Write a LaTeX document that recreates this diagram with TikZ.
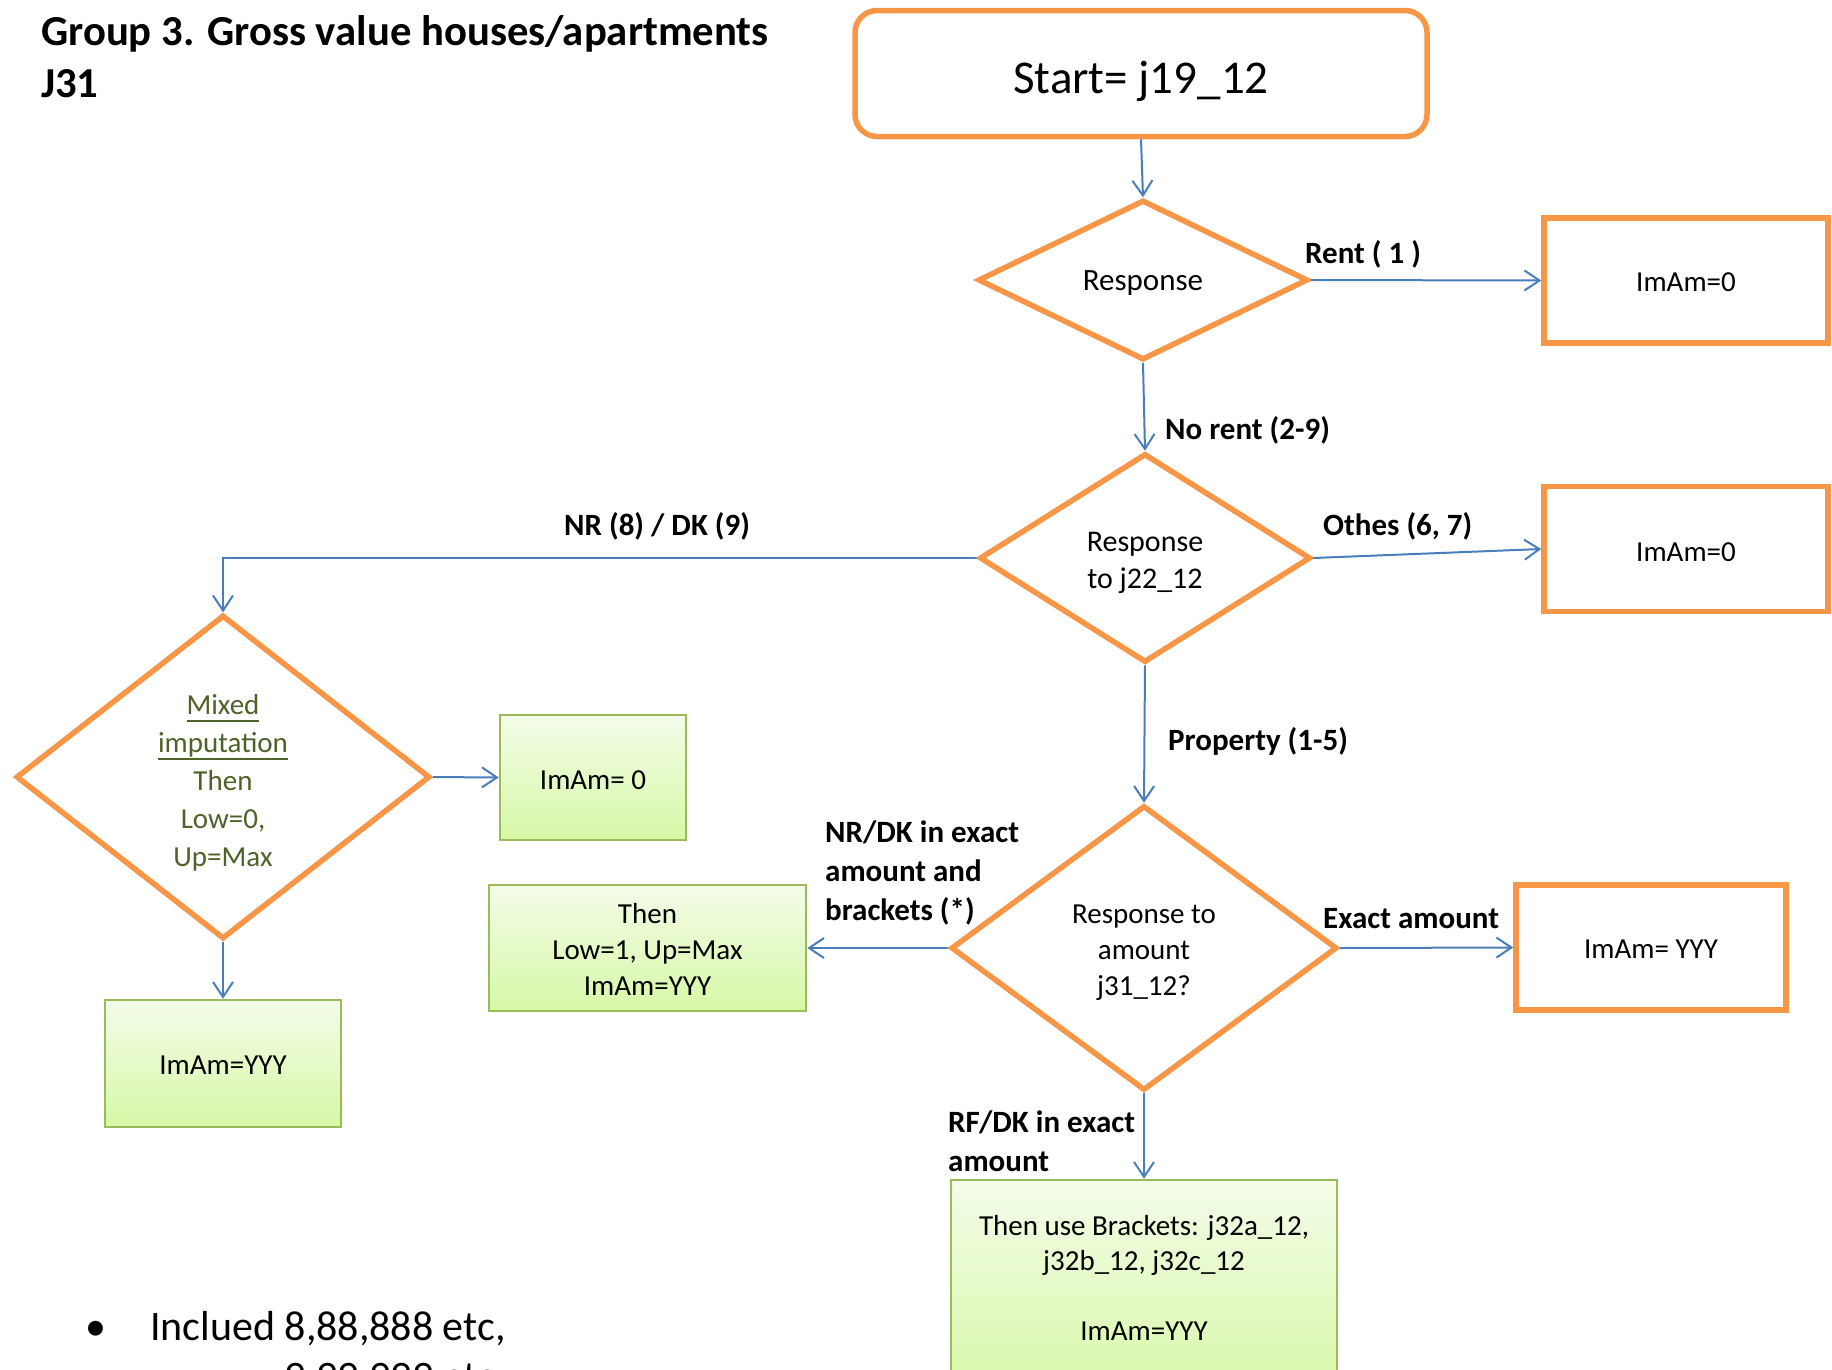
\documentclass[tikz,border=0pt]{standalone}
\usepackage{fontspec}
\setmainfont{Carlito}
\usetikzlibrary{shapes.geometric,arrows.meta}
\definecolor{orng}{HTML}{F79646}
\definecolor{blu}{HTML}{4A7EBB}
\definecolor{gborder}{HTML}{9BBB59}
\definecolor{gtop}{HTML}{F3FCE8}
\definecolor{gbot}{HTML}{D7F8A6}
\definecolor{olive}{HTML}{4F6228}
\newcommand{\thickul}[1]{\setbox0\hbox{#1}\rlap{\rule[-8pt]{\wd0}{2.4pt}}\box0}
\tikzset{
  every node/.style={inner sep=0pt},
  obox/.style={draw=orng, line width=5.5pt, rectangle},
  gbox/.style={draw=gborder, line width=2.5pt, rectangle, top color=gtop, bottom color=gbot},
  dia/.style={draw=orng, line width=5.5pt, diamond},
  conn/.style={draw=blu, line width=2pt, -{Straight Barb[length=15pt,width=20pt]}},
  txt/.style={font=\fontsize{29}{36}\selectfont, align=center, anchor=base},
  lbl/.style={font=\bfseries\fontsize{31}{39}\selectfont, align=left, anchor=base west},
}
\begin{document}
\begin{tikzpicture}[x=1pt,y=-1pt]
\useasboundingbox (0,0) rectangle (1832,1369);
% title (base anchor = last line)
\node[font=\bfseries\fontsize{42.7}{52}\selectfont, align=left, anchor=base west] (title) at (41,97) {Group 3. Gross value houses/apartments\\J31};
% shapes
\node[obox, rounded corners=22pt, minimum width=572, minimum height=126] (start) at (1141,73.5) {};
\node[dia, minimum width=330, minimum height=160] (d1) at (1143,280) {};
\node[obox, minimum width=284, minimum height=125] (box1) at (1686,280.5) {};
\node[dia, minimum width=331, minimum height=209] (d2) at (1145,558) {};
\node[obox, minimum width=284, minimum height=125] (box2) at (1686,549) {};
\node[dia, minimum width=414, minimum height=324] (dm) at (223,777) {};
\node[gbox, minimum width=186, minimum height=125] (g1) at (593,777.5) {};
\node[gbox, minimum width=236, minimum height=127] (g2) at (223,1063.5) {};
\node[gbox, minimum width=317, minimum height=126] (g3) at (647.5,948) {};
\node[dia, minimum width=386, minimum height=285] (d3) at (1144,948) {};
\node[obox, minimum width=270, minimum height=125] (o3) at (1651,947.5) {};
\node[gbox, minimum width=386, minimum height=220] (g4) at (1144,1290) {};
% texts in shapes
\node[txt, font=\fontsize{47}{56}\selectfont] (startt) at (1141,93) {Start= j19\_12};
\node[txt, font=\fontsize{31}{38}\selectfont] (d1t) at (1143,290) {Response};
\node[txt] (box1t) at (1686,291) {ImAm=0};
\node[txt] (box2t) at (1686,561) {ImAm=0};
\node[txt, font=\fontsize{30}{37}\selectfont] (d2t) at (1145,588) {Response\\to j22\_12};
\node[txt, font=\fontsize{29}{38}\selectfont, text=olive] (dmt) at (223,866) {\thickul{Mixed}\\\thickul{imputation}\\Then\\Low=0,\\Up=Max};
\node[txt] (g1t) at (593,789) {ImAm= 0};
\node[txt] (g3t) at (647.5,995) {Then\\Low=1, Up=Max\\ImAm=YYY};
\node[txt] (d3t) at (1144,995) {Response to\\amount\\j31\_12?};
\node[txt] (o3t) at (1651,958) {ImAm= YYY};
\node[txt] (g2t) at (223,1074) {ImAm=YYY};
\node[txt, font=\fontsize{29}{35}\selectfont] (g4t) at (1144,1340) {Then use Brackets: j32a\_12,\\j32b\_12, j32c\_12\\[35pt]ImAm=YYY};
% labels
\node[lbl] (lrent) at (1305,263) {Rent ( 1 )};
\node[lbl] (lnorent) at (1165,439) {No rent (2-9)};
\node[lbl] (lnrdk) at (564,535) {NR (8) / DK (9)};
\node[lbl] (lothes) at (1323,535) {Othes (6, 7)};
\node[lbl] (lprop) at (1168,750) {Property (1-5)};
\node[lbl] (lnrdk2) at (825,920) {NR/DK in exact\\amount and\\brackets (*)};
\node[lbl] (lexact) at (1323,928) {Exact amount};
\node[lbl] (lrfdk) at (948,1171) {RF/DK in exact\\amount};
% bullet
\node[anchor=base, font=\fontsize{42}{50}\selectfont] (bul) at (96,1340) {\textbullet};
\node[anchor=base west, align=left, font=\fontsize{42}{50}\selectfont] (bult) at (150,1390) {Inclued 8,88,888 etc,\\\phantom{Inclued }9,99,999 etc};
% connectors
\draw[conn] (start.south) -- (d1.north);
\draw[conn] (d1.east) -- (box1.west);
\draw[conn] (d1.south) -- (d2.north);
\draw[conn] (d2.east) -- (box2.west);
\draw[conn] (d2.west) -| (dm.north);
\draw[conn] (d2.south) -- (d3.north);
\draw[conn] (dm.east) -- (g1.west);
\draw[conn] (dm.south) -- (g2.north);
\draw[conn] (d3.west) -- (g3.east);
\draw[conn] (d3.east) -- (o3.west);
\draw[conn] (d3.south) -- (g4.north);
\end{tikzpicture}
\end{document}
